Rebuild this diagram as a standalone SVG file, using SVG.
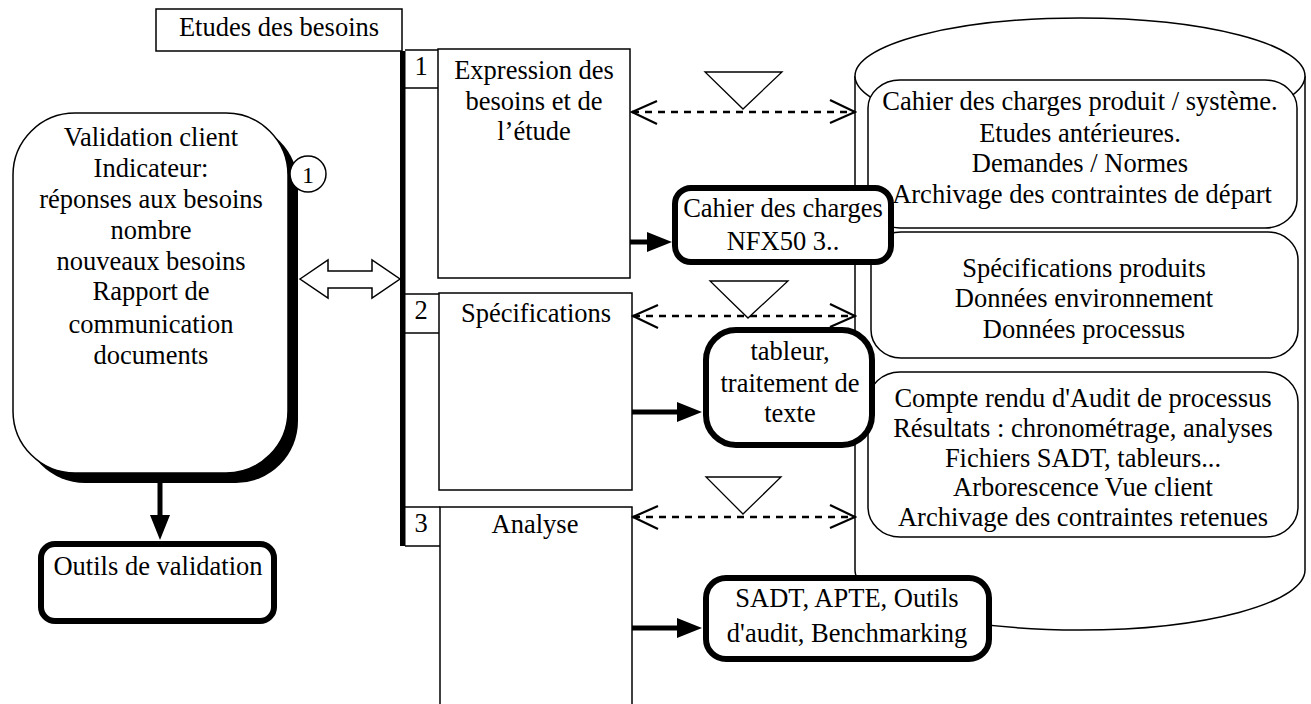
<svg xmlns="http://www.w3.org/2000/svg" width="1311" height="704" viewBox="0 0 1311 704">
<style>
  text { font-family: "Liberation Serif", "Times New Roman", serif; font-size: 26.5px; fill: #000; text-anchor: middle; }
  .thin { fill: #fff; stroke: #000; stroke-width: 1.5; }
  .tool { fill: #fff; stroke: #000; stroke-width: 6; }
  .dash { stroke: #000; stroke-width: 2.5; stroke-dasharray: 7 6; fill: none; marker-start: url(#chev); marker-end: url(#chev); }
  .thick { stroke: #000; stroke-width: 5; fill: none; marker-end: url(#solid); }
  .tri { fill: #fff; stroke: #000; stroke-width: 1.3; }
  .cell { stroke: #000; stroke-width: 1.3; }
</style>
<defs>
  <marker id="chev" markerUnits="userSpaceOnUse" viewBox="-28 -15 30 30" markerWidth="30" markerHeight="30" refX="0" refY="0" orient="auto-start-reverse">
    <path d="M-25,-12 L0,0 L-25,11" fill="none" stroke="#000" stroke-width="2.2"/>
  </marker>
  <marker id="solid" markerUnits="userSpaceOnUse" viewBox="-1 -11 27 22" markerWidth="27" markerHeight="22" refX="1" refY="0" orient="auto">
    <path d="M0,-10 L25,0 L0,10 Z" fill="#000"/>
  </marker>
</defs>
<rect width="1311" height="704" fill="#fff"/>

<g id="etudes">
  <rect class="thin" x="156" y="9" width="246" height="42"/>
  <text x="279" y="36">Etudes des besoins</text>
  <rect x="400" y="51" width="5.5" height="495" fill="#000"/>
</g>

<g id="step1">
  <line class="cell" x1="405" y1="50" x2="438" y2="50"/>
  <line class="cell" x1="405" y1="88" x2="438" y2="88"/>
  <text x="421" y="75">1</text>
  <rect class="thin" x="438" y="49" width="192" height="229"/>
  <text x="534" y="79">Expression des</text>
  <text x="534" y="110">besoins et de</text>
  <text x="534" y="140">l’étude</text>
</g>

<g id="step2">
  <line class="cell" x1="405" y1="294" x2="439" y2="294"/>
  <line class="cell" x1="405" y1="333" x2="439" y2="333"/>
  <text x="421" y="319">2</text>
  <rect class="thin" x="439" y="293" width="193" height="197"/>
  <text x="536" y="322">Spécifications</text>
</g>

<g id="step3">
  <line class="cell" x1="405" y1="507" x2="440" y2="507"/>
  <line class="cell" x1="405" y1="546" x2="440" y2="546"/>
  <text x="421" y="532">3</text>
  <rect class="thin" x="440" y="507" width="192" height="202"/>
  <text x="535" y="533">Analyse</text>
</g>

<g id="database">
  <path class="thin" d="M855,76 L855,570 A225,60 0 0 0 1305,570 L1305,76"/>
  <ellipse class="thin" cx="1080" cy="76" rx="225" ry="58"/>
</g>

<g id="doc-a">
  <rect class="thin" x="868" y="80" width="429" height="148" rx="32" ry="28"/>
  <text x="1080" y="110">Cahier des charges produit / système.</text>
  <text x="1080" y="142">Etudes antérieures.</text>
  <text x="1080" y="172">Demandes / Normes</text>
  <text x="1082" y="203">Archivage des contraintes de départ</text>
</g>

<g id="doc-b">
  <rect class="thin" x="871" y="232" width="427" height="126" rx="30" ry="28"/>
  <text x="1084" y="277">Spécifications produits</text>
  <text x="1084" y="307">Données environnement</text>
  <text x="1084" y="338">Données processus</text>
</g>

<g id="doc-c">
  <rect class="thin" x="868" y="372" width="430" height="165" rx="32" ry="30"/>
  <text x="1083" y="407">Compte rendu d'Audit de processus</text>
  <text x="1083" y="437">Résultats : chronométrage, analyses</text>
  <text x="1083" y="467">Fichiers SADT, tableurs...</text>
  <text x="1083" y="496">Arborescence Vue client</text>
  <text x="1083" y="526">Archivage des contraintes retenues</text>
</g>

<g id="connectors">
  <polygon class="thin" points="300,279 328,260 328,271 372,271 372,260 400,279 372,298 372,288 328,288 328,298"/>
  <line class="thick" x1="160" y1="483" x2="160" y2="516"/>
  <line class="dash" x1="632" y1="112" x2="855" y2="112"/>
  <line class="dash" x1="633" y1="316" x2="855" y2="316"/>
  <line class="dash" x1="633" y1="517" x2="855" y2="517"/>
  <polygon class="tri" points="705,72 782,72 743,109"/>
  <polygon class="tri" points="710,281 788,281 748,318"/>
  <polygon class="tri" points="706,477 781,477 743,514"/>
  <line class="thick" x1="630" y1="242" x2="648" y2="242"/>
  <line class="thick" x1="632" y1="412" x2="678" y2="412"/>
  <line class="thick" x1="632" y1="628" x2="678" y2="628"/>
</g>

<g id="validation">
  <rect x="23" y="123" width="275" height="360" rx="62" ry="62" fill="#000"/>
  <rect class="thin" x="13" y="113" width="275" height="360" rx="62" ry="62"/>
  <text x="151" y="146">Validation client</text>
  <text x="151" y="177">Indicateur:</text>
  <text x="151" y="208">réponses aux besoins</text>
  <text x="151" y="239">nombre</text>
  <text x="151" y="270">nouveaux besoins</text>
  <text x="151" y="300">Rapport de</text>
  <text x="151" y="333">communication</text>
  <text x="151" y="364">documents</text>
</g>

<g id="marker-1">
  <circle class="thin" cx="308" cy="174" r="18"/>
  <text x="308" y="183" style="font-size:24px">1</text>
</g>

<g id="outils">
  <rect class="tool" x="41" y="544" width="233" height="77" rx="14"/>
  <text x="158" y="575">Outils de validation</text>
</g>

<g id="cahier">
  <rect class="tool" x="675" y="188" width="216" height="74" rx="16"/>
  <text x="783" y="217">Cahier des charges</text>
  <text x="783" y="250">NFX50 3..</text>
</g>

<g id="tableur">
  <rect class="tool" x="706" y="330" width="166" height="115" rx="30"/>
  <text x="790" y="360">tableur,</text>
  <text x="790" y="392">traitement de</text>
  <text x="790" y="422">texte</text>
</g>

<g id="sadt">
  <rect class="tool" x="706" y="578" width="283" height="81" rx="20"/>
  <text x="847" y="607">SADT, APTE, Outils</text>
  <text x="847" y="642">d'audit, Benchmarking</text>
</g>
</svg>
